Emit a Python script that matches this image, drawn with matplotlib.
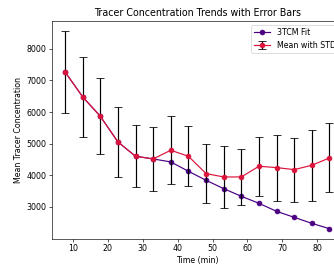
import numpy as np
import matplotlib.pyplot as plt

time_min = [7.75, 12.8, 17.85, 22.9, 27.95, 33.0, 38.05, 43.1,
            48.15, 53.2, 58.25, 63.3, 68.35, 73.4, 78.45, 83.5]
mean_conc = [7272, 6481, 5869, 5057, 4603, 4519, 4793, 4603,
             4055, 3949, 3949, 4287, 4245, 4181, 4319, 4550]
std_conc = [1300, 1255, 1200, 1100, 980, 1000, 1075, 950,
            940, 980, 880, 930, 1045, 1010, 1120, 1090]
fit_conc = [7272, 6481, 5869, 5057, 4603, 4519, 4424, 4129,
            3844, 3580, 3338, 3116, 2863, 2673, 2483, 2314]

DPI = 57
fig = plt.figure(figsize=(334/DPI, 266/DPI), dpi=DPI)
ax = fig.add_axes([0.155, 0.103, 0.871, 0.819])

ax.plot(time_min, fit_conc, 'o-', color='#4B0082', label='3TCM Fit')
ax.errorbar(time_min, mean_conc, yerr=std_conc, fmt='o-', color='#DC143C',
            ecolor='black', elinewidth=1.5, capsize=5, label='Mean with STD')

ax.set_title('Tracer Concentration Trends with Error Bars')
ax.set_xlabel('Time (min)')
ax.set_ylabel('Mean Tracer Concentration')
ax.set_xticks([10, 20, 30, 40, 50, 60, 70, 80])
ax.set_yticks([3000, 4000, 5000, 6000, 7000, 8000])
ax.spines['top'].set_visible(True)
ax.legend(loc='upper right')

plt.savefig('out.png', dpi=DPI)
